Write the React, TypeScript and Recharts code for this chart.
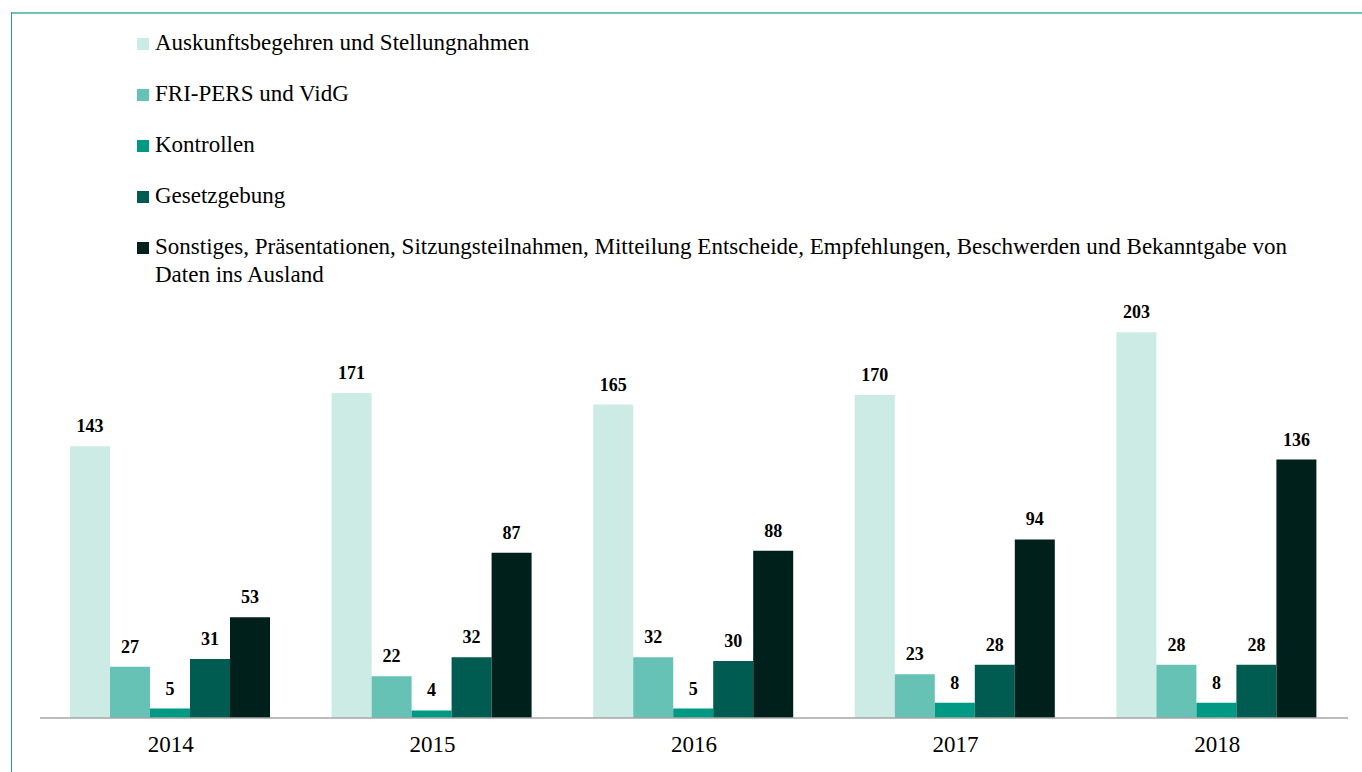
import React from "react";
import { BarChart, Bar, XAxis, YAxis, LabelList } from "recharts";

const years = ["2014", "2015", "2016", "2017", "2018"];
const auskunft = [143, 171, 165, 170, 203];
const friPers = [27, 22, 32, 23, 28];
const kontrollen = [5, 4, 5, 8, 8];
const gesetzgebung = [31, 32, 30, 28, 28];
const sonstiges = [53, 87, 88, 94, 136];

const series = [
  { key: "auskunft", name: "Auskunftsbegehren und Stellungnahmen", color: "#cdebe5", values: auskunft },
  { key: "friPers", name: "FRI-PERS und VidG", color: "#66c2b4", values: friPers },
  { key: "kontrollen", name: "Kontrollen", color: "#009983", values: kontrollen },
  { key: "gesetzgebung", name: "Gesetzgebung", color: "#005c50", values: gesetzgebung },
  {
    key: "sonstiges",
    name: "Sonstiges, Präsentationen, Sitzungsteilnahmen, Mitteilung Entscheide, Empfehlungen, Beschwerden und Bekanntgabe von Daten ins Ausland",
    color: "#00201c",
    values: sonstiges,
  },
];

const data = years.map((y, i) => {
  const row: any = { year: y };
  series.forEach((s) => (row[s.key] = s.values[i]));
  return row;
});

const FONT = '"Liberation Serif", "Times New Roman", serif';

export default function App() {
  return (
    <div style={{ position: "absolute", left: 0, top: 0, width: 1362, height: 772, background: "#fff", fontFamily: FONT, overflow: "hidden" }}>
      <div style={{ position: "absolute", left: 11, top: 12, width: 1351, height: 2, background: "#6cc4bd" }} />
      <div style={{ position: "absolute", left: 11, top: 12, width: 1, height: 760, background: "#2a9d94" }} />

      <BarChart
        width={1362}
        height={772}
        data={data}
        margin={{ top: 243, right: 14, bottom: 0, left: 40 }}
        barCategoryGap={30}
        barGap={0}
        style={{ position: "absolute", left: 0, top: 0 }}
      >
        <XAxis
          dataKey="year"
          height={54}
          axisLine={{ stroke: "#a6a6a6", strokeWidth: 1.5 }}
          tickLine={false}
          tickMargin={12}
          tick={{ fill: "#000", fontSize: 23, fontFamily: FONT }}
        />
        <YAxis hide domain={[0, 250]} />
        {series.map((s) => (
          <Bar key={s.key} dataKey={s.key} fill={s.color} isAnimationActive={false}>
            <LabelList
              dataKey={s.key}
              position="top"
              offset={14}
              style={{ fill: "#000", fontSize: 18, fontWeight: "bold", fontFamily: FONT }}
            />
          </Bar>
        ))}
      </BarChart>

      <div style={{ position: "absolute", left: 137, top: 29 }}>
        {series.map((s) => (
          <div key={s.key} style={{ display: "flex", alignItems: "flex-start", marginBottom: 23 }}>
            <div style={{ width: 12, height: 12, marginTop: 9, background: s.color, flex: "none" }} />
            <div style={{ marginLeft: 6, width: 1170, fontSize: 23, lineHeight: "28px", color: "#000" }}>{s.name}</div>
          </div>
        ))}
      </div>
    </div>
  );
}
